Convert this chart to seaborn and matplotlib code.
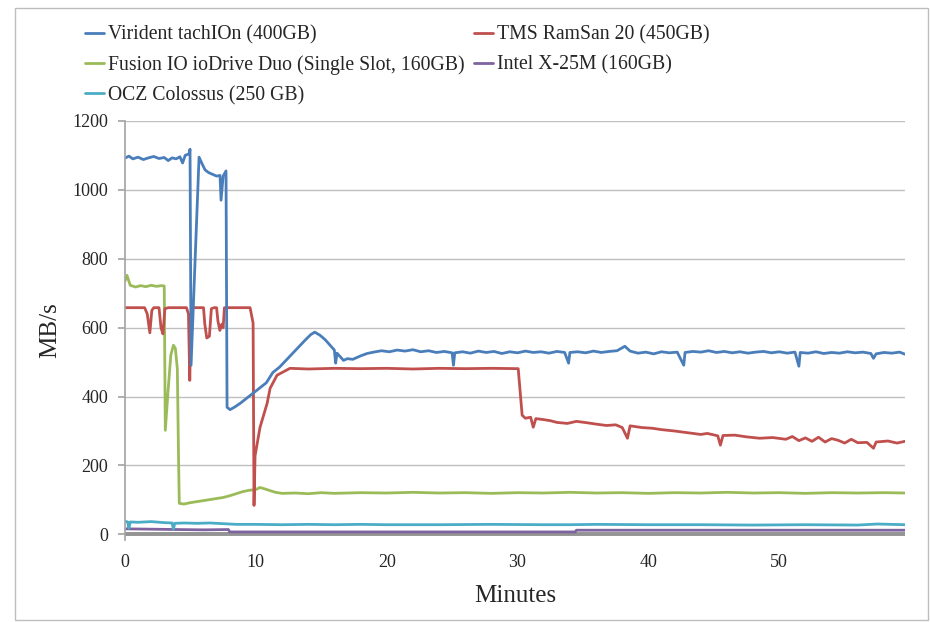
import matplotlib
matplotlib.use('Agg')
import matplotlib.pyplot as plt
import matplotlib.patches as mpatches
import seaborn as sns

# series (minutes, MB/s)
virident_min = [0.0, 0.3, 0.6, 1.0, 1.4, 1.8, 2.2, 2.6, 3.0, 3.3, 3.6, 3.9, 4.2, 4.4, 4.6, 4.9, 4.97,
                5.05, 5.66, 5.9, 6.12, 6.4, 6.7, 7.0, 7.26, 7.34, 7.5, 7.72, 7.8, 8.03, 8.4, 8.79, 9.3,
                9.8, 10.3, 10.8, 11.3, 11.8, 12.3, 12.8, 13.3, 13.8, 14.2, 14.5, 14.9, 15.3, 15.7, 16.0,
                16.1, 16.2, 16.7, 17.0, 17.4, 18.0, 18.5, 19.0, 19.6, 20.2, 20.8, 21.4, 22.0, 22.6, 23.2,
                23.8, 24.4, 25.0, 25.1, 25.2, 25.8, 26.4, 27.0, 27.6, 28.2, 28.8, 29.4, 30.0, 30.6, 31.2,
                31.8, 32.4, 33.0, 33.6, 33.9, 34.0, 34.6, 35.2, 35.8, 36.4, 37.0, 37.6, 38.2, 38.6, 39.2,
                39.8, 40.4, 41.0, 41.6, 42.2, 42.7, 42.8, 43.4, 44.0, 44.6, 45.2, 45.8, 46.4, 47.0, 47.6,
                48.2, 48.8, 49.4, 50.0, 50.6, 51.2, 51.5, 51.6, 52.2, 52.8, 53.4, 54.0, 54.6, 55.2, 55.8,
                56.4, 57.0, 57.2, 57.4, 58.0, 58.6, 59.2, 59.6]
virident_mbs = [1092, 1098, 1090, 1095, 1088, 1093, 1097, 1091, 1094, 1085, 1093, 1090, 1096, 1078, 1100,
                1105, 1118, 491, 1095, 1075, 1058, 1050, 1045, 1040, 1042, 970, 1040, 1055, 369, 362, 370,
                380, 395, 410, 425, 440, 470, 485, 505, 525, 545, 565, 580, 587, 578, 565, 548, 535, 497,
                526, 505, 510, 508, 518, 525, 529, 533, 530, 535, 532, 536, 530, 533, 528, 531, 527, 491,
                527, 530, 526, 532, 528, 531, 525, 530, 527, 532, 528, 530, 526, 531, 528, 497, 528, 530,
                527, 532, 528, 531, 533, 546, 532, 526, 529, 524, 530, 527, 529, 491, 528, 531, 529, 533,
                528, 531, 527, 530, 526, 529, 531, 527, 530, 526, 529, 488, 528, 526, 530, 525, 528, 526,
                530, 527, 529, 525, 511, 524, 528, 526, 529, 523]

ramsan_min = [0.0, 1.5, 1.7, 1.9, 2.05, 2.2, 2.6, 2.75, 2.9, 3.05, 3.3, 4.7, 4.85, 4.95, 5.05, 5.2, 6.0,
              6.1, 6.25, 6.45, 6.6, 6.8, 7.0, 7.1, 7.25, 7.4, 7.5, 7.6, 8.5, 9.56, 9.79, 9.86, 9.94,
              10.32, 10.86, 11.09, 11.62, 12.61, 14.0, 16.0, 18.0, 20.0, 22.0, 24.0, 26.0, 28.0, 30.05,
              30.35, 30.6, 31.0, 31.2, 31.4, 32.0, 32.5, 33.0, 33.8, 34.5, 35.3, 36.0, 36.8, 37.5, 38.0,
              38.4, 38.6, 39.5, 40.3, 41.0, 42.0, 43.0, 44.0, 44.5, 45.3, 45.5, 45.7, 46.6, 47.5, 48.5,
              49.5, 50.5, 51.0, 51.5, 52.0, 52.5, 53.0, 53.5, 54.0, 54.5, 55.0, 55.5, 56.0, 56.7, 57.2,
              57.4, 58.3, 59.0, 59.6]
ramsan_mbs = [658, 658, 640, 585, 650, 658, 658, 600, 582, 655, 658, 658, 640, 447, 640, 658, 658,
              610, 570, 575, 655, 658, 658, 620, 592, 610, 600, 658, 658, 658, 613, 84, 228,
              311, 380, 424, 462, 482, 480, 482, 481, 482, 480, 482, 481, 482, 481,
              346, 337, 340, 311, 336, 333, 330, 325, 322, 328, 324, 320, 316, 318, 310,
              279, 315, 310, 308, 304, 300, 295, 290, 293, 286, 259, 287, 288, 283, 279,
              281, 276, 284, 272, 280, 270, 282, 268, 278, 273, 265, 276, 266, 267, 250,
              268, 271, 265, 270]

fusion_min = [0.0, 0.15, 0.4, 0.8, 1.2, 1.6, 2.0, 2.4, 2.8, 3.0, 3.08, 3.3, 3.5, 3.7, 3.85, 4.0, 4.1,
              4.15, 4.5, 5.0, 5.5, 6.0, 6.5, 7.0, 7.5, 8.0, 8.5, 9.0, 9.5, 10.0, 10.3, 10.6, 11.0, 11.5,
              12.0, 13, 14, 15, 16, 18, 20, 22, 24, 26, 28, 30, 32, 34, 36, 38, 40, 42, 44, 46, 48, 50,
              52, 54, 56, 58, 59.6]
fusion_mbs = [735, 752, 723, 718, 722, 719, 723, 720, 722, 721, 302, 420, 520, 549, 540, 480, 200,
              90, 88, 92, 95, 98, 101, 104, 107, 112, 118, 124, 128, 130, 136, 133, 128, 122,
              119, 120, 118, 121, 119, 121, 120, 122, 120, 121, 119, 121, 120, 122, 120, 121, 119, 121,
              120, 122, 120, 121, 119, 121, 120, 121, 120]

intel_min = [0.0, 2.0, 4.0, 6.0, 7.9, 8.0, 20.0, 34.4, 34.5, 59.6]
intel_mbs = [16, 15, 14, 13, 14, 7, 7, 7, 12, 12]

ocz_min = [0.0, 0.2, 0.3, 0.4, 1.0, 2.0, 3.0, 3.6, 3.7, 3.8, 4.5, 5.5, 6.5, 7.5, 8.5, 10, 12, 14, 16,
           18, 20, 24, 28, 32, 34, 36, 40, 44, 48, 52, 56, 57.5, 59.6]
ocz_mbs = [38, 36, 18, 36, 35, 37, 34, 33, 15, 32, 33, 32, 33, 31, 29, 29, 28, 29, 28,
           29, 28, 28, 29, 28, 28, 29, 28, 28, 27, 28, 27, 30, 28]

other_min = [0.0, 59.6]
other_mbs = [0, 0]

sns.set_theme(style='white')
plt.rcParams['font.family'] = ['Liberation Serif', 'DejaVu Serif']

fig, ax = plt.subplots(figsize=(9.3, 6.22), dpi=100)
fig.subplots_adjust(left=0.1344, right=0.973, top=0.8055, bottom=0.1315)

lw = 2.0
sns.lineplot(x=other_min, y=other_mbs, color='#939393', lw=2.8, label='_nolegend_', ax=ax, estimator=None, sort=False)
sns.lineplot(x=intel_min, y=intel_mbs, color='#7F63A1', lw=lw, label='Intel X-25M (160GB)', ax=ax, estimator=None, sort=False)
sns.lineplot(x=ocz_min, y=ocz_mbs, color='#4BACC6', lw=lw, label='OCZ Colossus (250 GB)', ax=ax, estimator=None, sort=False)
sns.lineplot(x=fusion_min, y=fusion_mbs, color='#9BBB59', lw=lw, label='Fusion IO ioDrive Duo (Single Slot, 160GB)', ax=ax, estimator=None, sort=False)
sns.lineplot(x=ramsan_min, y=ramsan_mbs, color='#C0504D', lw=lw, label='TMS RamSan 20 (450GB)', ax=ax, estimator=None, sort=False)
sns.lineplot(x=virident_min, y=virident_mbs, color='#4A7EBB', lw=lw, label='Virident tachIOn (400GB)', ax=ax, estimator=None, sort=False)

ax.set_xlim(0, 59.6)
ax.set_ylim(-17, 1200)
ax.set_yticks(range(0, 1201, 200))
ax.set_xticks(range(0, 51, 10))
ax.yaxis.grid(True, color='#BFBFBF', lw=1)
ax.xaxis.grid(False)
for s in ['top', 'right', 'bottom']:
    ax.spines[s].set_visible(False)
ax.spines['left'].set_color('#A6A6A6')
ax.tick_params(axis='y', which='major', left=True, length=5, color='#A6A6A6', labelsize=13, pad=7)
ax.tick_params(axis='x', which='major', bottom=False, labelsize=13, pad=4)
ax.set_xlabel('Minutes', fontsize=18, labelpad=10)
ax.set_ylabel('MB/s', fontsize=18, labelpad=8)

# legend: two columns, gray series left out
h, l = ax.get_legend_handles_labels()
lookup = dict(zip(l, h))
order = ['Virident tachIOn (400GB)', 'Fusion IO ioDrive Duo (Single Slot, 160GB)', 'OCZ Colossus (250 GB)',
         'TMS RamSan 20 (450GB)', 'Intel X-25M (160GB)']
ax.legend([lookup[k] for k in order], order, ncol=2, frameon=False, fontsize=14.2,
          loc='upper left', bbox_to_anchor=(0.083, 0.972), bbox_transform=fig.transFigure,
          borderaxespad=0, handlelength=0.95, handletextpad=0.2, columnspacing=0.5, labelspacing=0.55)

fig.patches.append(mpatches.Rectangle((0.016, 0.003), 0.982, 0.984, transform=fig.transFigure,
                                      fill=False, edgecolor='#BDBDBD', lw=1))

fig.savefig('out.png', dpi=100)
